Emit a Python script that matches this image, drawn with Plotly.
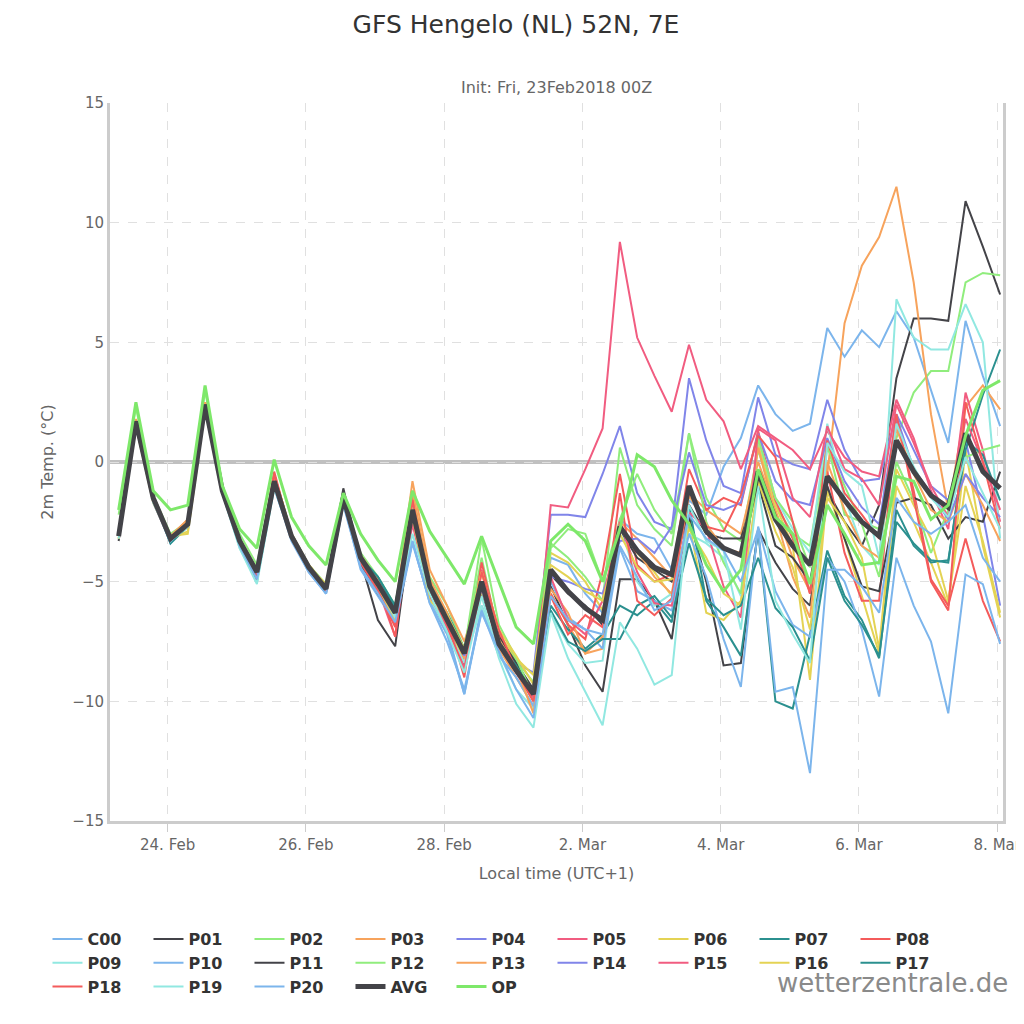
import pandas as pd
import plotly.graph_objects as go

times = pd.date_range("2018-02-23 07:00", periods=52, freq="6h")

C00 = [-3.0,1.6,-1.6,-3.4,-2.5,2.2,-1.3,-3.5,-5.0,-1.0,-3.2,-4.5,-5.5,-1.6,-4.2,-5.4,-6.8,-3.4,-5.8,-7.0,-9.7,-6.0,-7.8,-8.8,-9.9,-4.0,-4.3,-5.5,-6.3,-2.4,-3.0,-3.2,-4.5,-1.6,-2.2,-0.2,1.0,3.2,2.0,1.3,1.6,5.6,4.4,5.5,4.8,6.3,5.2,3.0,0.8,5.9,3.6,1.5]
P01 = [-3.3,1.5,-1.6,-3.2,-2.6,2.3,-1.2,-3.3,-4.7,-0.9,-3.1,-4.4,-5.3,-1.1,-4.1,-6.6,-7.7,-2.3,-5.5,-6.8,-8.5,-5.5,-7.5,-8.6,-9.8,-5.2,-6.8,-8.5,-9.6,-4.9,-4.9,-5.8,-7.4,-2.3,-5.0,-8.5,-8.4,-2.8,-4.2,-5.3,-6.0,-1.2,-2.5,-3.5,-1.8,3.5,6.0,6.0,5.9,10.9,9.0,7.0]
P02 = [-2.2,2.3,-1.4,-3.0,-2.5,3.0,-1.1,-3.0,-4.3,-0.5,-3.0,-4.3,-5.1,-1.5,-3.8,-4.8,-6.0,-1.5,-4.8,-6.0,-7.8,-4.0,-7.3,-8.3,-9.2,-3.4,-4.0,-4.8,-5.8,0.6,-1.8,-2.8,-3.5,1.2,-1.5,-2.8,-3.3,0.5,-1.8,-3.0,-3.5,0.8,-2.2,-2.5,-2.8,1.0,2.9,3.8,3.8,7.5,7.9,7.8]
P03 = [-3.0,1.8,-1.5,-3.1,-2.4,2.5,-1.0,-3.2,-4.5,-0.5,-3.0,-4.3,-5.2,-1.4,-4.0,-5.0,-6.2,-0.8,-4.5,-6.0,-7.5,-5.2,-7.8,-9.0,-10.2,-5.5,-6.8,-8.0,-7.8,-2.5,-3.2,-4.0,-4.8,-1.3,-2.0,-2.5,-3.0,0.0,-2.0,-4.0,-5.4,-0.5,5.8,8.2,9.4,11.5,7.5,2.0,-2.0,2.3,3.2,2.2]
P04 = [-3.1,1.7,-1.6,-3.2,-2.6,2.4,-1.2,-3.3,-4.6,-0.8,-3.1,-4.4,-5.3,-1.6,-4.1,-5.2,-6.4,-2.0,-5.1,-6.5,-7.9,-5.1,-7.5,-8.4,-8.8,-2.2,-2.2,-2.3,-0.5,1.5,-1.3,-2.5,-2.8,3.5,0.9,-1.0,-1.3,2.7,0.3,-0.1,-0.3,2.6,0.5,-0.8,-0.7,2.0,0.5,-1.0,-1.6,0.9,-2.2,-6.0]
P05 = [-3.1,1.6,-1.7,-3.3,-2.6,2.3,-1.3,-3.4,-4.8,-0.7,-3.2,-4.5,-5.4,-1.6,-4.2,-5.3,-7.3,-2.2,-5.3,-6.6,-8.3,-4.5,-7.2,-8.5,-9.6,-1.8,-1.9,-0.3,1.4,9.2,5.2,3.6,2.1,4.9,2.6,1.7,-0.3,1.5,1.0,0.5,-0.3,1.3,0.2,-0.4,-0.6,2.6,1.0,-1.2,-2.8,2.9,0.5,-2.5]
P06 = [-3.2,1.5,-1.4,-3.1,-3.0,2.2,-1.2,-3.4,-4.7,-0.9,-3.2,-4.4,-5.1,-1.7,-3.9,-4.9,-6.4,-1.8,-5.6,-6.7,-8.4,-5.4,-7.2,-8.2,-8.9,-3.8,-4.2,-5.0,-6.2,-2.8,-3.8,-4.6,-5.6,-2.5,-6.3,-6.6,-5.8,0.8,-1.8,-3.5,-9.1,-1.2,-3.2,-5.6,-8.0,-1.0,-2.5,-4.2,-6.0,0.5,-3.5,-6.5]
P07 = [-3.0,1.7,-1.5,-3.4,-2.7,2.4,-1.2,-3.5,-5.0,-0.9,-3.1,-4.4,-5.3,-1.6,-4.0,-4.8,-6.0,-2.0,-5.1,-6.3,-7.8,-5.2,-7.6,-8.7,-9.8,-6.0,-7.0,-7.8,-7.2,-6.0,-6.4,-5.8,-6.7,-1.8,-5.8,-6.9,-8.1,-2.9,-10.0,-10.3,-7.2,-3.7,-5.6,-6.6,-8.2,-2.0,-3.5,-4.2,-4.1,0.5,2.8,4.7]
P08 = [-3.1,1.7,-1.5,-3.2,-2.6,2.5,-1.1,-3.3,-4.6,-0.4,-3.1,-4.4,-5.3,-1.6,-4.0,-5.0,-7.3,-1.3,-5.1,-6.5,-9.0,-4.2,-7.2,-8.8,-10.0,-5.5,-6.8,-7.4,-4.6,-0.5,-4.3,-5.0,-4.7,-0.3,-2.0,-1.5,-1.8,1.3,-1.6,-3.2,-5.5,-0.4,-3.8,-5.8,-5.8,1.8,-1.2,-4.9,-6.0,-3.2,-5.8,-7.5]
P09 = [-3.0,1.6,-1.6,-3.3,-2.6,2.3,-1.3,-3.6,-5.0,-1.0,-3.2,-4.4,-5.2,-1.5,-4.0,-5.0,-6.2,-2.4,-5.7,-7.0,-8.4,-6.0,-8.0,-9.5,-10.3,-6.3,-7.6,-8.4,-8.3,-2.6,-5.0,-6.0,-5.5,-3.0,-3.4,-4.0,-5.6,1.0,-1.5,-2.8,-3.8,1.6,-1.5,-3.5,-4.3,6.8,5.2,4.7,4.7,6.6,5.0,-3.2]
P10 = [-3.1,1.7,-1.5,-3.2,-2.5,2.4,-1.3,-3.5,-4.8,-1.1,-3.2,-4.6,-5.5,-1.7,-4.5,-5.6,-6.7,-3.3,-5.9,-7.2,-9.7,-6.2,-8.1,-9.0,-10.2,-5.0,-6.5,-7.0,-7.8,-3.6,-5.4,-5.8,-6.2,-3.0,-4.8,-7.4,-9.4,-2.7,-5.4,-6.8,-7.3,-4.0,-5.0,-7.0,-9.8,-4.0,-6.0,-7.5,-10.5,-4.7,-5.1,-7.6]
P11 = [-3.1,1.6,-1.6,-3.2,-2.6,2.4,-1.2,-3.3,-4.6,-0.9,-3.1,-4.3,-5.3,-1.2,-4.2,-5.5,-6.5,-2.3,-5.5,-6.7,-8.0,-5.0,-7.3,-8.4,-9.5,-4.7,-5.5,-6.0,-6.8,-2.8,-4.0,-4.5,-5.0,-1.8,-3.0,-3.2,-3.2,-0.9,-3.5,-4.0,-5.0,-1.0,-3.2,-5.2,-5.4,-1.7,-1.5,-1.8,-3.2,-2.3,-2.5,-0.4]
P12 = [-3.1,1.6,-1.5,-3.1,-2.6,2.4,-1.2,-3.2,-4.5,-0.7,-3.0,-4.3,-5.2,-1.4,-3.9,-5.0,-6.2,-1.7,-5.0,-6.5,-7.9,-3.2,-6.8,-8.2,-9.8,-3.6,-2.8,-3.0,-5.0,-2.4,-0.5,-2.0,-3.0,1.2,-2.5,-4.2,-5.5,1.0,-1.5,-2.5,-4.4,0.6,-1.0,-2.6,-4.8,0.0,-1.6,-3.8,-2.0,0.2,0.5,0.7]
P13 = [-3.0,1.7,-1.4,-3.1,-2.4,2.5,-1.1,-3.2,-4.6,-0.6,-3.0,-4.3,-5.2,-1.5,-3.9,-4.9,-6.4,-1.2,-4.9,-6.3,-8.2,-4.6,-7.4,-8.6,-10.5,-5.3,-6.3,-8.0,-7.3,-2.8,-3.7,-4.8,-5.5,-1.4,-2.6,-3.6,-3.8,0.6,-2.2,-4.8,-6.5,0.0,-2.0,-3.5,-4.0,1.4,-0.5,-2.0,-2.5,-0.5,-1.8,-3.3]
P14 = [-3.1,1.7,-1.5,-3.2,-2.6,2.3,-1.2,-3.3,-4.7,-0.8,-3.1,-4.4,-5.3,-1.5,-4.0,-5.0,-6.3,-2.1,-5.3,-6.6,-8.1,-5.3,-7.6,-8.7,-9.6,-4.8,-5.0,-5.3,-5.5,-3.3,-3.2,-3.8,-2.7,0.4,-1.8,-2.0,-1.7,1.2,-0.8,-1.6,-1.8,1.0,-0.8,-1.9,-2.6,1.9,-0.3,-1.3,-2.4,-0.5,-1.5,-2.3]
P15 = [-3.1,1.6,-1.6,-3.2,-2.6,2.4,-1.2,-3.4,-4.8,-1.0,-3.1,-4.5,-5.4,-1.6,-4.1,-5.2,-6.8,-2.6,-5.6,-6.9,-8.6,-5.2,-7.7,-8.8,-9.8,-4.8,-6.6,-7.2,-5.8,-2.5,-4.6,-5.9,-6.0,-2.1,-2.8,-5.2,-6.5,1.4,0.9,-1.5,-2.3,1.5,-0.3,-0.7,-1.8,2.4,0.8,-1.0,-2.3,1.8,0.0,-2.0]
P16 = [-3.2,1.5,-1.7,-3.2,-2.9,2.3,-1.2,-3.3,-4.6,-0.8,-3.1,-4.3,-5.2,-1.5,-4.1,-5.2,-6.6,-2.3,-5.8,-6.4,-7.8,-4.6,-7.0,-8.1,-9.3,-4.3,-4.8,-5.4,-5.8,-3.0,-4.4,-5.0,-4.9,-2.8,-4.0,-5.5,-6.0,-0.8,-2.9,-4.4,-7.0,-1.5,-2.5,-4.0,-7.8,-0.3,-1.8,-3.2,-5.8,-1.0,-3.3,-6.3]
P17 = [-3.1,1.7,-1.5,-3.3,-2.7,2.3,-1.2,-3.4,-4.9,-0.9,-3.1,-4.4,-5.3,-1.6,-4.0,-4.8,-6.1,-2.0,-5.2,-6.6,-8.0,-5.1,-7.5,-8.5,-9.7,-6.2,-7.5,-7.9,-7.4,-7.4,-6.0,-5.6,-6.5,-3.4,-5.7,-6.4,-6.0,-4.0,-6.1,-6.9,-8.3,-4.0,-5.8,-6.8,-8.1,-2.5,-3.4,-4.1,-4.2,0.9,0.3,-1.6]
P18 = [-3.1,1.6,-1.6,-3.2,-2.7,2.4,-1.3,-3.4,-4.9,-0.5,-3.2,-4.5,-5.4,-1.7,-4.2,-5.4,-6.9,-1.6,-5.3,-6.8,-8.8,-4.6,-7.0,-8.7,-10.0,-5.6,-7.2,-6.4,-6.9,-1.3,-5.8,-6.4,-5.7,-1.2,-2.7,-2.9,-1.4,1.1,0.2,-2.5,-5.5,0.9,-1.3,-2.2,-3.2,2.0,-1.5,-5.0,-6.2,2.5,0.0,-2.8]
P19 = [-3.2,1.6,-1.7,-3.3,-2.7,2.3,-1.3,-3.6,-5.1,-1.1,-3.1,-4.4,-5.3,-1.6,-4.0,-5.1,-6.5,-3.0,-5.5,-7.1,-8.8,-5.6,-8.2,-10.1,-11.1,-6.3,-8.2,-9.6,-11.0,-6.7,-7.8,-9.3,-8.9,-1.8,-3.3,-3.7,-7.0,-1.0,-5.8,-7.2,-8.4,0.8,-0.4,-1.0,-4.0,1.6,-0.2,-1.5,-2.3,0.2,-1.3,-2.8]
P20 = [-3.0,1.7,-1.5,-3.3,-2.6,2.4,-1.2,-3.5,-4.9,-1.0,-3.3,-4.6,-5.5,-1.8,-4.4,-5.5,-6.7,-3.3,-5.9,-7.5,-9.5,-6.3,-7.9,-9.5,-10.7,-5.6,-6.6,-7.0,-7.2,-3.5,-4.8,-6.2,-5.8,-2.2,-3.2,-3.7,-5.0,-2.8,-9.6,-9.4,-13.0,-4.5,-4.5,-5.2,-6.3,-1.5,-2.5,-3.0,-2.5,-1.8,-4.0,-5.0]
AVG = [-3.1,1.7,-1.5,-3.2,-2.6,2.4,-1.2,-3.3,-4.6,-0.8,-3.1,-4.4,-5.3,-1.5,-4.0,-5.1,-6.3,-2.0,-5.2,-6.6,-8.0,-5.0,-7.6,-8.7,-9.7,-4.5,-5.4,-6.1,-6.6,-2.7,-3.7,-4.4,-4.7,-1.0,-2.9,-3.6,-3.9,-0.4,-2.4,-3.5,-4.3,-0.6,-1.6,-2.5,-3.1,0.9,-0.4,-1.4,-1.9,1.2,-0.4,-1.1]
OP = [-2.0,2.5,-1.2,-2.0,-1.8,3.2,-1.0,-2.8,-3.6,0.1,-2.3,-3.5,-4.3,-1.3,-3.0,-4.1,-5.0,-1.2,-2.9,-4.0,-5.1,-3.1,-5.0,-6.9,-7.6,-3.3,-2.6,-3.3,-5.0,-2.8,0.3,-0.2,-1.6,-2.6,-4.3,-5.4,-4.5,-0.3,-2.3,-3.0,-5.1,-1.8,-3.0,-4.3,-4.2,-0.6,-0.8,-2.4,-1.8,1.1,3.0,3.4]

members = {
    "C00": C00, "P01": P01, "P02": P02, "P03": P03, "P04": P04, "P05": P05,
    "P06": P06, "P07": P07, "P08": P08, "P09": P09, "P10": P10, "P11": P11,
    "P12": P12, "P13": P13, "P14": P14, "P15": P15, "P16": P16, "P17": P17,
    "P18": P18, "P19": P19, "P20": P20,
}
palette = ["#7cb5ec", "#434348", "#90ed7d", "#f7a35c", "#8085e9",
           "#f15c80", "#e4d354", "#2b908f", "#f45b5b", "#91e8e1"]

fig = go.Figure()
for i, (name, vals) in enumerate(members.items()):
    fig.add_trace(go.Scatter(x=times, y=vals, mode="lines", name=name,
                             line=dict(color=palette[i % 10], width=2)))
fig.add_trace(go.Scatter(x=times, y=AVG, mode="lines", name="AVG",
                         line=dict(color="#434348", width=5)))
fig.add_trace(go.Scatter(x=times, y=OP, mode="lines", name="OP",
                         line=dict(color="#7ee86a", width=3)))

fig.add_hline(y=0, line=dict(color="#c0c0c0", width=4), layer="below")

# page is offset by 8px (body margin), so the figure is 1016 and all pixel refs are page-8
W = 1016
def py(pix):
    return (813 - (pix - 8)) / 718

FONT = "DejaVu Sans, Open Sans, sans-serif"
fig.update_layout(
    width=W, height=W,
    margin=dict(l=102, r=21, t=95, b=203, autoexpand=False),
    paper_bgcolor="white", plot_bgcolor="white",
    font=dict(family=FONT, color="#555", size=14),
    title=dict(text="GFS Hengelo (NL) 52N, 7E", x=0.5, xanchor="center",
               y=1 - 16 / W, yanchor="middle", font=dict(size=25, color="#333")),
    annotations=[
        dict(text="Init: Fri, 23Feb2018 00Z", x=0.5, y=py(76), xref="paper", yref="paper",
             showarrow=False, font=dict(size=16, color="#666")),
        dict(text="wetterzentrale.de", x=(1010 - 110) / 893, y=py(1000), xref="paper", yref="paper",
             xanchor="right", showarrow=False, font=dict(size=26, color="#8a8a8a")),
    ],
    showlegend=True,
    legend=dict(orientation="h", x=-0.07, xanchor="left", y=py(922), yanchor="top",
                entrywidth=56, entrywidthmode="pixels", traceorder="normal",
                itemwidth=30, tracegroupgap=0,
                font=dict(size=16, color="#333", family=FONT, weight="bold")),
)
fig.update_xaxes(
    range=[times[0] - pd.Timedelta(hours=3), times[-1] + pd.Timedelta(hours=1)],
    tickvals=pd.date_range("2018-02-24", "2018-03-08", freq="2D"),
    tickformat="%-d. %b", ticks="outside", ticklen=8, tickcolor="#ccc",
    showgrid=True, gridcolor="#e0e0e0", griddash="dash", automargin=False,
    showline=True, linecolor="#ccc", linewidth=3,
    title=dict(text="Local time (UTC+1)", font=dict(size=16, color="#666")),
    tickfont=dict(size=15, color="#666"),
)
fig.update_yaxes(
    range=[-15, 15], dtick=5, showgrid=True, gridcolor="#e0e0e0", griddash="dash",
    zeroline=False, showline=True, mirror=True, linecolor="#ccc", linewidth=3,
    automargin=False,
    title=dict(text="2m Temp. (°C)", font=dict(size=16, color="#666")),
    tickfont=dict(size=15, color="#666"),
)

fig.write_html("out.html")
